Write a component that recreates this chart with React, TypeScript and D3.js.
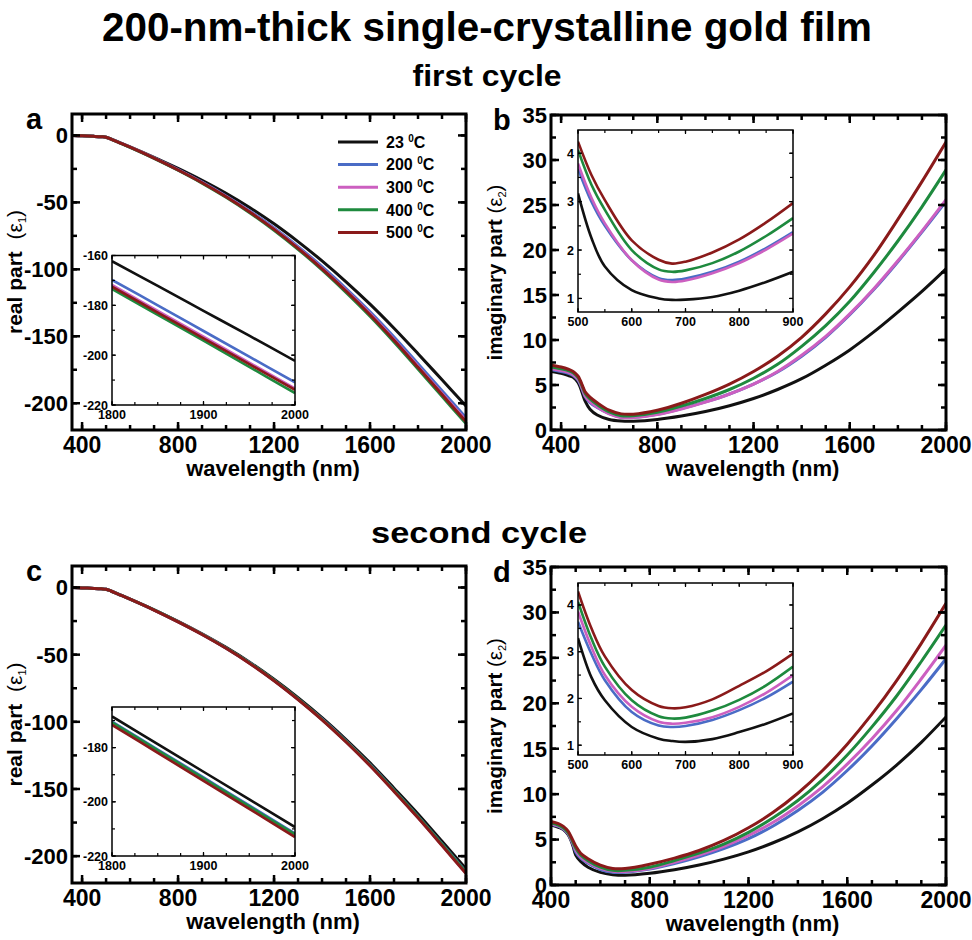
import React from "react";
import * as d3 from "d3";

// ---------- data ----------
const TEMPS = ["23", "200", "300", "400", "500"];
const COLORS = ["#111111", "#4a6cc6", "#cc5fc0", "#1e8a3e", "#8a1a1a"];

// real part, main panels
const WL_E1 = [360, 400, 450, 480, 500, 520, 550, 600, 700, 800, 900, 1000, 1100, 1200, 1300, 1400, 1500, 1600, 1700, 1800, 1900, 2000];
const E1_C1_23 = [0, -0.3, -0.7, -1.0, -1.3, -2.6, -4.8, -8.5, -16.3, -24.6, -33.5, -43.2, -54.0, -66.0, -79.3, -93.7, -109.3, -126.0, -144.0, -163.0, -182.5, -202.0];
const E1_C1_200 = [0, -0.3, -0.7, -1.0, -1.3, -2.7, -4.9, -8.7, -16.8, -25.5, -34.9, -45.2, -56.6, -69.1, -83.0, -98.0, -114.3, -131.7, -150.5, -170.5, -190.6, -210.8];
const E1_C1_300 = [0, -0.3, -0.7, -1.0, -1.3, -2.7, -5.0, -8.8, -16.9, -25.7, -35.2, -45.6, -57.2, -69.9, -84.0, -99.2, -115.7, -133.3, -152.4, -172.5, -192.7, -213.0];
const E1_C1_400 = [0, -0.3, -0.7, -1.0, -1.3, -2.7, -5.0, -8.9, -17.1, -26.0, -35.6, -46.2, -57.9, -70.8, -85.0, -100.4, -117.2, -135.0, -154.2, -174.4, -194.8, -215.2];
const E1_C1_500 = [0, -0.3, -0.7, -1.0, -1.3, -2.7, -5.0, -8.8, -17.0, -25.8, -35.3, -45.8, -57.4, -70.2, -84.3, -99.6, -116.2, -133.9, -153.0, -173.2, -193.5, -213.9];

const E1_C2_23 = [0, -0.3, -0.7, -1.0, -1.3, -2.6, -4.8, -8.6, -16.6, -25.2, -34.5, -44.6, -55.8, -68.3, -82.0, -96.9, -113.2, -130.6, -149.4, -168.6, -189.0, -209.5];
const E1_C2_200 = [0, -0.3, -0.7, -1.0, -1.3, -2.6, -4.9, -8.7, -16.7, -25.5, -34.8, -45.0, -56.3, -69.0, -82.9, -97.9, -114.3, -131.9, -150.9, -170.4, -190.9, -211.7];
const E1_C2_300 = [0, -0.3, -0.7, -1.0, -1.3, -2.6, -4.9, -8.7, -16.8, -25.6, -34.9, -45.2, -56.6, -69.3, -83.3, -98.3, -114.8, -132.5, -151.5, -171.2, -191.8, -212.6];
const E1_C2_400 = [0, -0.3, -0.7, -1.0, -1.3, -2.6, -4.9, -8.7, -16.7, -25.5, -34.8, -45.1, -56.4, -69.1, -83.0, -98.1, -114.5, -132.1, -151.1, -170.7, -191.2, -212.0];
const E1_C2_500 = [0, -0.3, -0.7, -1.0, -1.3, -2.6, -4.9, -8.7, -16.8, -25.6, -35.0, -45.3, -56.7, -69.4, -83.4, -98.5, -115.0, -132.7, -151.8, -171.5, -192.1, -213.0];

// real part, insets
const WL_E1_INSET = [1800, 1850, 1900, 1950, 2000];
const E1I_C1_23 = [-162.3, -172.2, -182.2, -192.2, -202.3];
const E1I_C1_200 = [-169.8, -180.0, -190.3, -200.6, -210.9];
const E1I_C1_300 = [-171.8, -182.2, -192.6, -203.0, -213.4];
const E1I_C1_400 = [-173.4, -183.8, -194.2, -204.7, -215.2];
const E1I_C1_500 = [-172.5, -182.9, -193.3, -203.6, -213.9];

const E1I_C2_23 = [-168.5, -178.7, -188.9, -199.1, -209.3];
const E1I_C2_200 = [-170.4, -180.7, -191.0, -201.3, -211.7];
const E1I_C2_300 = [-171.2, -181.5, -191.8, -202.2, -212.6];
const E1I_C2_400 = [-170.7, -181.0, -191.3, -201.7, -212.0];
const E1I_C2_500 = [-171.6, -181.9, -192.3, -202.6, -213.0];

// imaginary part, panel b
const WL_E2_B = [360, 400, 430, 450, 470, 480, 490, 500, 520, 550, 600, 650, 700, 800, 900, 1000, 1100, 1200, 1300, 1400, 1500, 1600, 1700, 1800, 1900, 2000];
const E2_C1_23 = [6.5, 6.3, 6.05, 5.85, 5.3, 4.7, 3.95, 3.2, 2.3, 1.66, 1.17, 1.0, 0.98, 1.17, 1.55, 2.05, 2.7, 3.5, 4.5, 5.7, 7.2, 8.9, 10.9, 13.1, 15.4, 17.9];
const E2_C1_200 = [6.7, 6.5, 6.3, 6.05, 5.55, 5.05, 4.35, 3.7, 3.05, 2.5, 1.82, 1.42, 1.41, 1.75, 2.37, 3.12, 4.0, 5.1, 6.45, 8.2, 10.3, 12.8, 15.6, 18.7, 22.0, 25.4];
const E2_C1_300 = [6.8, 6.6, 6.4, 6.15, 5.65, 5.15, 4.45, 3.79, 3.15, 2.55, 1.79, 1.38, 1.38, 1.72, 2.34, 3.1, 4.0, 5.1, 6.5, 8.3, 10.4, 12.9, 15.7, 18.8, 22.1, 25.6];
const E2_C1_400 = [7.0, 6.8, 6.6, 6.35, 5.85, 5.35, 4.7, 4.07, 3.45, 2.83, 2.0, 1.59, 1.59, 1.97, 2.66, 3.5, 4.5, 5.75, 7.3, 9.3, 11.6, 14.3, 17.5, 21.0, 24.8, 28.9];
const E2_C1_500 = [7.2, 7.0, 6.75, 6.5, 6.0, 5.5, 4.85, 4.24, 3.65, 3.03, 2.2, 1.79, 1.76, 2.2, 2.97, 3.95, 5.1, 6.5, 8.2, 10.3, 12.9, 15.9, 19.4, 23.4, 27.6, 32.0];

// imaginary part, panel d
const WL_E2_D = [400, 430, 450, 470, 480, 490, 500, 520, 550, 600, 650, 700, 800, 900, 1000, 1100, 1200, 1300, 1400, 1500, 1600, 1700, 1800, 1900, 2000];
const E2_C2_23 = [6.6, 6.35, 6.1, 5.5, 4.95, 4.2, 3.3, 2.6, 1.96, 1.39, 1.14, 1.07, 1.29, 1.68, 2.2, 2.85, 3.65, 4.65, 5.85, 7.3, 9.0, 11.0, 13.2, 15.7, 18.5];
const E2_C2_200 = [6.7, 6.45, 6.15, 5.6, 5.05, 4.4, 3.64, 2.95, 2.39, 1.71, 1.41, 1.41, 1.75, 2.36, 3.1, 4.0, 5.1, 6.5, 8.2, 10.2, 12.6, 15.3, 18.3, 21.5, 24.9];
const E2_C2_300 = [6.75, 6.5, 6.2, 5.65, 5.1, 4.5, 3.86, 3.1, 2.5, 1.82, 1.5, 1.49, 1.82, 2.5, 3.3, 4.25, 5.45, 6.9, 8.7, 10.8, 13.3, 16.1, 19.2, 22.7, 26.4];
const E2_C2_400 = [6.85, 6.6, 6.3, 5.75, 5.25, 4.65, 4.07, 3.3, 2.68, 1.96, 1.61, 1.61, 1.96, 2.68, 3.5, 4.5, 5.8, 7.4, 9.3, 11.6, 14.3, 17.4, 20.8, 24.6, 28.6];
const E2_C2_500 = [7.0, 6.75, 6.45, 5.9, 5.4, 4.85, 4.29, 3.5, 2.9, 2.18, 1.82, 1.82, 2.29, 2.96, 3.8, 4.9, 6.3, 8.0, 10.1, 12.6, 15.5, 18.8, 22.5, 26.6, 31.0];

// imaginary part, insets
const WL_E2_INSET = [500, 525, 550, 600, 650, 675, 700, 750, 800, 850, 900];
const E2I_C1_23 = [3.17, 2.25, 1.66, 1.17, 1.0, 0.97, 0.975, 1.03, 1.16, 1.34, 1.55];
const E2I_C1_200 = [3.68, 3.0, 2.5, 1.79, 1.42, 1.38, 1.41, 1.55, 1.76, 2.04, 2.37];
const E2I_C1_300 = [3.79, 3.08, 2.55, 1.79, 1.39, 1.34, 1.37, 1.52, 1.73, 2.01, 2.34];
const E2I_C1_400 = [4.07, 3.35, 2.83, 2.0, 1.6, 1.55, 1.58, 1.73, 1.97, 2.29, 2.66];
const E2I_C1_500 = [4.24, 3.55, 3.03, 2.2, 1.8, 1.72, 1.76, 1.95, 2.22, 2.57, 2.97];

const E2I_C2_23 = [3.29, 2.45, 1.96, 1.39, 1.14, 1.09, 1.07, 1.13, 1.28, 1.46, 1.68];
const E2I_C2_200 = [3.64, 2.95, 2.39, 1.71, 1.42, 1.39, 1.41, 1.54, 1.75, 2.02, 2.36];
const E2I_C2_300 = [3.86, 3.1, 2.5, 1.82, 1.5, 1.46, 1.48, 1.6, 1.82, 2.12, 2.5];
const E2I_C2_400 = [4.07, 3.28, 2.68, 1.96, 1.62, 1.57, 1.59, 1.74, 1.97, 2.28, 2.68];
const E2I_C2_500 = [4.29, 3.5, 2.9, 2.18, 1.84, 1.79, 1.81, 1.98, 2.27, 2.58, 2.96];

// ticks
const X_MAIN_LABELS = [400, 800, 1200, 1600, 2000];
const E1_LABELS = [0, -50, -100, -150, -200];
const E2_LABELS = [0, 5, 10, 15, 20, 25, 30, 35];
const E1I_X_LABELS = [1800, 1900, 2000];
const E1I_Y_LABELS_A = [-160, -180, -200, -220];
const E1I_Y_LABELS_C = [-180, -200, -220];
const E2I_X_LABELS = [500, 600, 700, 800, 900];
const E2I_Y_LABELS = [1, 2, 3, 4];

const FONT = "'Liberation Sans', Arial, Helvetica, sans-serif";

type Box = { x: number; y: number; w: number; h: number };

function rng(a: number, b: number, step: number) {
  return d3.range(a, b + step * 0.001, step);
}

function Axes(props: {
  box: Box;
  xs: d3.ScaleLinear<number, number>;
  ys: d3.ScaleLinear<number, number>;
  xMajor: number[];
  xMinor: number[];
  yMajor: number[];
  yMinor: number[];
  majLen: number;
  minLen: number;
  frameW: number;
  tickW: number;
  xLabels: number[];
  yLabels: number[];
  xFont: number;
  yFont: number;
  xLabelOff: number;
  yLabelOff: number;
}) {
  const { box, xs, ys } = props;
  const b = box.y + box.h;
  const r = box.x + box.w;
  const ticks: any[] = [];
  const add = (vals: number[], len: number, axis: "x" | "y", key: string) => {
    vals.forEach((v, i) => {
      if (axis === "x") {
        const px = xs(v);
        if (px < box.x - 0.5 || px > r + 0.5) return;
        ticks.push(<line key={key + "b" + i} x1={px} x2={px} y1={b} y2={b - len} stroke="#000" strokeWidth={props.tickW} />);
        ticks.push(<line key={key + "t" + i} x1={px} x2={px} y1={box.y} y2={box.y + len} stroke="#000" strokeWidth={props.tickW} />);
      } else {
        const py = ys(v);
        if (py < box.y - 0.5 || py > b + 0.5) return;
        ticks.push(<line key={key + "l" + i} x1={box.x} x2={box.x + len} y1={py} y2={py} stroke="#000" strokeWidth={props.tickW} />);
        ticks.push(<line key={key + "r" + i} x1={r} x2={r - len} y1={py} y2={py} stroke="#000" strokeWidth={props.tickW} />);
      }
    });
  };
  add(props.xMinor, props.minLen, "x", "xm");
  add(props.xMajor, props.majLen, "x", "xM");
  add(props.yMinor, props.minLen, "y", "ym");
  add(props.yMajor, props.majLen, "y", "yM");
  return (
    <g>
      {ticks}
      <rect x={box.x} y={box.y} width={box.w} height={box.h} fill="none" stroke="#000" strokeWidth={props.frameW} />
      {props.xLabels.map((v) => (
        <text key={"xl" + v} x={xs(v)} y={b + props.xLabelOff} textAnchor="middle" fontFamily={FONT} fontWeight="bold" fontSize={props.xFont}>
          {v}
        </text>
      ))}
      {props.yLabels.map((v) => (
        <text key={"yl" + v} x={box.x - props.yLabelOff} y={ys(v)} dy="0.36em" textAnchor="end" fontFamily={FONT} fontWeight="bold" fontSize={props.yFont}>
          {v}
        </text>
      ))}
    </g>
  );
}

function Curves(props: { id: string; box: Box; xs: any; ys: any; wl: number[]; series: number[][]; width: number }) {
  const { box, xs, ys, wl } = props;
  const line = d3
    .line<number>()
    .x((_, i) => xs(wl[i]))
    .y((d) => ys(d))
    .curve(d3.curveCatmullRom.alpha(0.5));
  const order = [0, 1, 2, 3, 4];
  return (
    <g clipPath={`url(#clip-${props.id})`}>
      <defs>
        <clipPath id={`clip-${props.id}`}>
          <rect x={box.x} y={box.y} width={box.w} height={box.h} />
        </clipPath>
      </defs>
      {order.map((k) => (
        <path key={k} d={line(props.series[k]) || ""} fill="none" stroke={COLORS[k]} strokeWidth={props.width} strokeLinejoin="round" />
      ))}
    </g>
  );
}

function MainPanel(props: {
  id: string;
  letter: string;
  box: Box;
  xDomain: [number, number];
  yDomain: [number, number];
  wl: number[];
  series: number[][];
  kind: "e1" | "e2";
  inset: { box: Box; xDomain: [number, number]; yDomain: [number, number]; wl: number[]; series: number[][]; yLabels: number[] };
  legend?: boolean;
}) {
  const { box, kind, inset } = props;
  const xs = d3.scaleLinear().domain(props.xDomain).range([box.x, box.x + box.w]);
  const ys = d3.scaleLinear().domain(props.yDomain).range([box.y + box.h, box.y]);
  const yMajor = kind === "e1" ? E1_LABELS : E2_LABELS;
  const yMinor = kind === "e1" ? rng(-225, 15, 25) : rng(0, 35, 2.5);
  const ib = inset.box;
  const ixs = d3.scaleLinear().domain(inset.xDomain).range([ib.x, ib.x + ib.w]);
  const iys = d3.scaleLinear().domain(inset.yDomain).range([ib.y + ib.h, ib.y]);
  const iXMinor = kind === "e1" ? rng(1800, 2000, 25) : rng(500, 900, 50);
  const iXMajor = kind === "e1" ? E1I_X_LABELS : E2I_X_LABELS;
  const iYMinor = kind === "e1" ? rng(-220, -160, 10) : rng(0.5, 4.5, 0.5);
  const cx = box.x + box.w / 2;
  const cy = box.y + box.h / 2;
  const ylabX = kind === "e1" ? box.x - 50 : box.x - 49;
  const letterX = kind === "e1" ? box.x - 46 : box.x - 58;
  return (
    <g>
      <Curves id={props.id} box={box} xs={xs} ys={ys} wl={props.wl} series={props.series} width={3} />
      <Axes
        box={box}
        xs={xs}
        ys={ys}
        xMajor={X_MAIN_LABELS}
        xMinor={rng(300, 2000, 100)}
        yMajor={yMajor}
        yMinor={yMinor}
        majLen={8}
        minLen={5}
        frameW={3}
        tickW={2.5}
        xLabels={X_MAIN_LABELS}
        yLabels={yMajor}
        xFont={23}
        yFont={22}
        xLabelOff={23}
        yLabelOff={4}
      />
      {/* inset */}
      <rect x={ib.x} y={ib.y} width={ib.w} height={ib.h} fill="#fff" />
      <Curves id={props.id + "i"} box={ib} xs={ixs} ys={iys} wl={inset.wl} series={inset.series} width={2.6} />
      <Axes
        box={ib}
        xs={ixs}
        ys={iys}
        xMajor={iXMajor}
        xMinor={iXMinor}
        yMajor={inset.yLabels}
        yMinor={iYMinor}
        majLen={4}
        minLen={3}
        frameW={1.5}
        tickW={1.2}
        xLabels={iXMajor}
        yLabels={inset.yLabels}
        xFont={12.5}
        yFont={12.5}
        xLabelOff={14}
        yLabelOff={4}
      />
      {/* x title */}
      <text x={cx + 4} y={box.y + box.h + 46} textAnchor="middle" fontFamily={FONT} fontWeight="bold" fontSize={22}>
        wavelength (nm)
      </text>
      {/* y title */}
      <text
        transform={`translate(${ylabX},${cy}) rotate(-90)`}
        textAnchor="middle"
        fontFamily={FONT}
        fontWeight="bold"
        fontSize={kind === "e1" ? 21 : 20.5}
      >
        {kind === "e1" ? "real part\u00a0\u00a0" : "imaginary part "}
        <tspan fontWeight="normal">(ε</tspan>
        <tspan fontWeight="normal" fontSize={11} dy={4}>
          {kind === "e1" ? "1" : "2"}
        </tspan>
        <tspan fontWeight="normal" dy={-4}>
          )
        </tspan>
      </text>
      {/* letter */}
      <text x={letterX} y={box.y + 15} fontFamily={FONT} fontWeight="bold" fontSize={29}>
        {props.letter}
      </text>
      {props.legend && (
        <g>
          {TEMPS.map((t, i) => (
            <g key={t}>
              <line x1={338} x2={378} y1={142 + i * 22.6} y2={142 + i * 22.6} stroke={COLORS[i]} strokeWidth={3} />
              <text x={386} y={142 + i * 22.6} dy="0.36em" fontFamily={FONT} fontWeight="bold" fontSize={16}>
                {t + " "}
                <tspan fontSize={10} dy={-6}>
                  0
                </tspan>
                <tspan dy={6}>C</tspan>
              </text>
            </g>
          ))}
        </g>
      )}
    </g>
  );
}

export default function App() {
  const c1e1 = [E1_C1_23, E1_C1_200, E1_C1_300, E1_C1_400, E1_C1_500];
  const c2e1 = [E1_C2_23, E1_C2_200, E1_C2_300, E1_C2_400, E1_C2_500];
  const c1e2 = [E2_C1_23, E2_C1_200, E2_C1_300, E2_C1_400, E2_C1_500];
  const c2e2 = [E2_C2_23, E2_C2_200, E2_C2_300, E2_C2_400, E2_C2_500];
  const c1e1i = [E1I_C1_23, E1I_C1_200, E1I_C1_300, E1I_C1_400, E1I_C1_500];
  const c2e1i = [E1I_C2_23, E1I_C2_200, E1I_C2_300, E1I_C2_400, E1I_C2_500];
  const c1e2i = [E2I_C1_23, E2I_C1_200, E2I_C1_300, E2I_C1_400, E2I_C1_500];
  const c2e2i = [E2I_C2_23, E2I_C2_200, E2I_C2_300, E2I_C2_400, E2I_C2_500];
  return (
    <svg width={972} height={940} style={{ position: "absolute", left: 0, top: 0, background: "#fff" }}>
      <rect x={0} y={0} width={972} height={940} fill="#fff" />
      <text x={487} y={41} textAnchor="middle" fontFamily={FONT} fontWeight="bold" fontSize={40} textLength={770} lengthAdjust="spacingAndGlyphs">
        200-nm-thick single-crystalline gold film
      </text>
      <text x={487} y={86} textAnchor="middle" fontFamily={FONT} fontWeight="bold" fontSize={30} textLength={149} lengthAdjust="spacingAndGlyphs">
        first cycle
      </text>
      <text x={479} y={543} textAnchor="middle" fontFamily={FONT} fontWeight="bold" fontSize={30} textLength={216} lengthAdjust="spacingAndGlyphs">
        second cycle
      </text>
      <MainPanel
        id="a"
        letter="a"
        box={{ x: 72, y: 114, w: 394, h: 316 }}
        xDomain={[358, 2000]}
        yDomain={[-220, 16]}
        wl={WL_E1}
        series={c1e1}
        kind="e1"
        legend
        inset={{ box: { x: 112, y: 255.5, w: 183, h: 149.5 }, xDomain: [1800, 2000], yDomain: [-220, -160], wl: WL_E1_INSET, series: c1e1i, yLabels: E1I_Y_LABELS_A }}
      />
      <MainPanel
        id="b"
        letter="b"
        box={{ x: 551, y: 115, w: 395, h: 315 }}
        xDomain={[358, 2000]}
        yDomain={[0, 35]}
        wl={WL_E2_B}
        series={c1e2}
        kind="e2"
        inset={{ box: { x: 578, y: 130, w: 215, h: 182 }, xDomain: [500, 900], yDomain: [0.72, 4.48], wl: WL_E2_INSET, series: c1e2i, yLabels: E2I_Y_LABELS }}
      />
      <MainPanel
        id="c"
        letter="c"
        box={{ x: 72, y: 566, w: 394, h: 317 }}
        xDomain={[358, 2000]}
        yDomain={[-220, 16]}
        wl={WL_E1}
        series={c2e1}
        kind="e1"
        inset={{ box: { x: 112, y: 707, w: 183, h: 149 }, xDomain: [1800, 2000], yDomain: [-220, -165], wl: WL_E1_INSET, series: c2e1i, yLabels: E1I_Y_LABELS_C }}
      />
      <MainPanel
        id="d"
        letter="d"
        box={{ x: 551, y: 567, w: 395, h: 318 }}
        xDomain={[400, 2000]}
        yDomain={[0, 35]}
        wl={WL_E2_D}
        series={c2e2}
        kind="e2"
        inset={{ box: { x: 578, y: 583, w: 215, h: 172 }, xDomain: [500, 900], yDomain: [0.79, 4.47], wl: WL_E2_INSET, series: c2e2i, yLabels: E2I_Y_LABELS }}
      />
    </svg>
  );
}
